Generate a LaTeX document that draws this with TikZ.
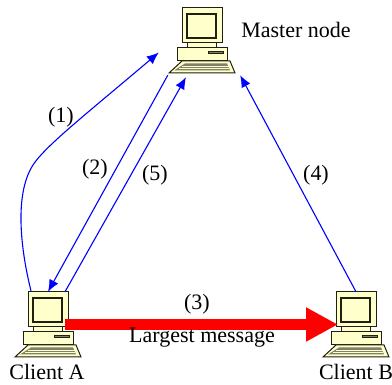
\documentclass[tikz,border=0pt]{standalone}
\usepackage{fontspec}
\setmainfont{Liberation Serif}
\usetikzlibrary{arrows.meta}
\definecolor{pcyellow}{HTML}{FFFFCC}
\definecolor{pcline}{HTML}{202010}
\definecolor{pcgray}{HTML}{808068}
\tikzset{
  pics/computer/.style={code={
    \draw[pcpart] (-15,2.5) rectangle (14,7.5);
    \draw[pcpart] (-20,-32.5) rectangle (20,2.5);
    \draw[pcline, line width=1.3pt] (-15,-26.5) rectangle (14,-2.5);
    \draw[pcpart] (-25,7.5) rectangle (25,20.5);
    \draw[pcline, fill=pcgray, line width=0.7pt] (6,10.5) rectangle (21,12.5);
    \draw[pcpart] (-20,20.5) -- (28,20.5) -- (33,32.5) -- (-33,32.5) -- cycle;
    \fill[pcgray] (-17,23) -- (25,23) -- (28,30) -- (-28,30) -- cycle;
    \draw[pcyellow, line width=0.6pt] (-20,25.5) -- (27,25.5);
    \draw[pcyellow, line width=0.6pt] (-23,28) -- (27,28);
  }},
}
\begin{document}
\begin{tikzpicture}[
  x=1pt, y=-1pt,
  pcpart/.style={draw=pcline, fill=pcyellow, line width=1pt},
  box/.style={minimum width=66pt, minimum height=65pt, inner sep=0pt},
  lab/.style={font=\fontsize{22}{24}\selectfont, inner sep=0pt},
  flow/.style={draw=blue, line width=1.1pt, -{Latex[length=12pt,width=10pt]}},
  bigflow/.style={draw=red, line width=11.5pt, -{Triangle[length=32pt,width=32pt]}},
]
\useasboundingbox (0,0) rectangle (392,385);
% the three computers
\node[box] (master) at (202,40.5) {};
\node[box] (clienta) at (48,324.5) {};
\node[box] (clientb) at (356,324.5) {};
\pic at (master) {computer};
\pic at (clienta) {computer};
\pic at (clientb) {computer};
% messages
\draw[flow] ([xshift=-17pt,yshift=1pt]clienta.north) .. controls (22,255) and (13,196) .. (33,165) .. controls (45,146.4) and (85,115) .. ([xshift=-10pt,yshift=-12pt]master.west);
\draw[flow] ([xshift=-1pt,yshift=-2pt]master.south west) -- (clienta.north);
\draw[flow] ([xshift=17pt]clienta.north) -- ([xshift=-16pt,yshift=-4pt]master.south);
\draw[flow] (clientb.north) -- ([xshift=5pt,yshift=-2pt]master.south east);
\draw[bigflow] ([xshift=17pt]clienta.center) -- ([xshift=-18pt]clientb.center);
% labels
\node[lab] (mastertext) at (296,30) {Master node};
\node[lab] (clientatext) at (47,372) {Client A};
\node[lab] (clientbtext) at (356,372) {Client B};
\node[lab] (msgone) at (61,117.5) {(1)};
\node[lab] (msgtwo) at (95,169.5) {(2)};
\node[lab] (msgfive) at (155,175.5) {(5)};
\node[lab] (msgfour) at (316,175.5) {(4)};
\node[lab] (msgthree) at (197,304.5) {(3)};
\node[lab] (largest) at (202,338) {Largest message};
\end{tikzpicture}
\end{document}
